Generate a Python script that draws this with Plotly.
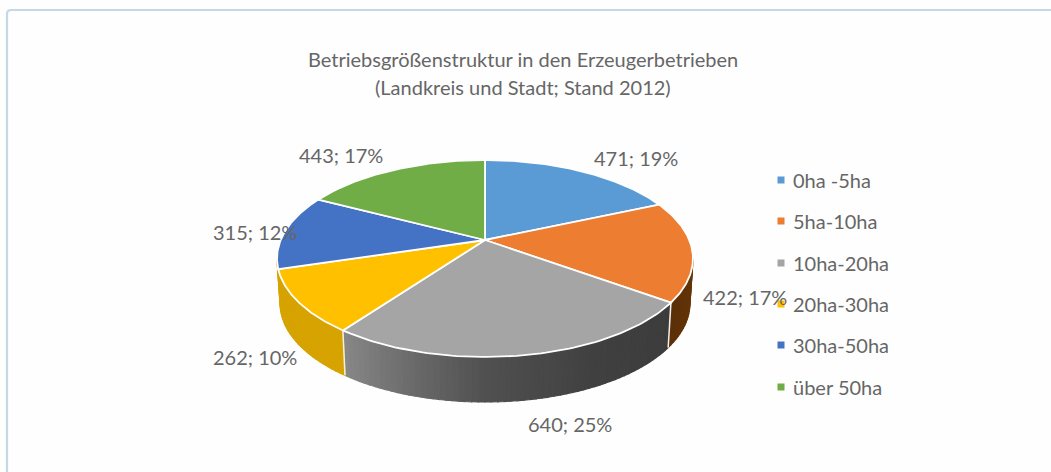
import numpy as np
import plotly.graph_objects as go

# --- data ---
categories = ["0ha -5ha", "5ha-10ha", "10ha-20ha", "20ha-30ha", "30ha-50ha", "über 50ha"]
values = [471, 422, 640, 262, 315, 443]
percent_labels = ["19%", "17%", "25%", "10%", "12%", "17%"]

title_lines = ["Betriebsgrößenstruktur in den Erzeugerbetrieben", "(Landkreis und Stadt; Stand 2012)"]

# --- styles ---
FONT = "Lato, 'Open Sans', sans-serif"
TEXT = "#666666"
top_colors = ["#5b9bd5", "#ed7d31", "#a5a5a5", "#ffc000", "#4472c4", "#70ad47"]
# wall shading stops: (fraction along the clockwise slice sweep, rgb)
wall_stops = {
    1: [(0, (104, 54, 8)), (1, (92, 48, 8))],
    2: [(0, (60, 60, 60)), (0.3, (64, 64, 64)), (0.6, (80, 80, 80)), (1, (136, 136, 136))],
    3: [(0, (214, 163, 0)), (1, (214, 163, 0))],
}
label_centers = [(636, 158), (745, 297), (570, 424), (255, 357), (255, 232), (341, 155)]
legend_y = [180, 221, 263, 304, 345, 387]

# --- projection of the pie disc onto the page (pixel-based axes) ---
CX, CY = 485, 240
K, B, A = 0.1878, 95.0, 204.3
DEPTH = 45
BOTTOM_SCALE = 0.985  # the lower rim recedes slightly in perspective


def rim(theta_deg):
    t = np.radians(theta_deg)
    u, v = np.sin(t), np.cos(t)
    w = 1 + K * v
    return CX + A * u / w, CY - B * v / w


def lower(x, y):
    return CX + (x - CX) * BOTTOM_SCALE, y + DEPTH


def lerp_color(stops, f):
    for (f0, c0), (f1, c1) in zip(stops, stops[1:]):
        if f <= f1:
            s = (f - f0) / (f1 - f0)
            return "rgb(%d,%d,%d)" % tuple(round(a + (b - a) * s) for a, b in zip(c0, c1))
    return "rgb(%d,%d,%d)" % stops[-1][1]


total = sum(values)
edges = np.concatenate([[0], np.cumsum(values)]) / total * 360
front_lo = np.degrees(np.arccos(-K))
front_hi = 360 - front_lo

fig = go.Figure()

# walls
for i, stops in wall_stops.items():
    a0 = max(edges[i], front_lo)
    a1 = front_hi if i == 3 else min(edges[i + 1], front_hi)
    n = max(4, int((a1 - a0) / 1.5))
    grid = np.linspace(a0, a1, n + 1)
    for j in range(n):
        th = np.linspace(grid[j], grid[j + 1], 4)
        x, y = rim(th)
        xl, yl = lower(x, y)
        col = lerp_color(stops, (j + 0.5) / n)
        fig.add_trace(go.Scatter(
            x=np.concatenate([x, xl[::-1], x[:1]]),
            y=np.concatenate([y, yl[::-1], y[:1]]),
            mode="lines", fill="toself", fillcolor=col,
            line=dict(color=col, width=1.2), hoverinfo="skip", showlegend=False))
    # pale seam at the wall's clockwise-start edge
    if i > 1:
        x0, y0 = rim(a0)
        x1, y1 = lower(x0, y0)
        fig.add_trace(go.Scatter(x=[x0, x1], y=[y0, y1], mode="lines",
                                 line=dict(color="#f4efe6", width=1.5),
                                 hoverinfo="skip", showlegend=False))

# top faces
for i, cat in enumerate(categories):
    th = np.linspace(edges[i], edges[i + 1], 80)
    x, y = rim(th)
    fig.add_trace(go.Scatter(
        x=np.concatenate([[CX], x, [CX]]), y=np.concatenate([[CY], y, [CY]]),
        mode="lines", fill="toself", fillcolor=top_colors[i],
        line=dict(color="#ffffff", width=1.8), name=cat,
        hovertemplate=f"{cat}: {values[i]}; {percent_labels[i]}<extra></extra>",
        showlegend=False))

# legend keys
for i, cat in enumerate(categories):
    fig.add_trace(go.Scatter(
        x=[781], y=[legend_y[i]], mode="markers",
        marker=dict(symbol="square", size=7, color=top_colors[i]),
        hoverinfo="skip", showlegend=False))

ann = []
for i, cat in enumerate(categories):
    ann.append(dict(x=791, y=legend_y[i], text=cat, xanchor="left", yanchor="middle", showarrow=False,
                    font=dict(family=FONT, size=20, color=TEXT)))
for i, (lx, ly) in enumerate(label_centers):
    ann.append(dict(x=lx, y=ly, text=f"{values[i]}; {percent_labels[i]}", xanchor="center", yanchor="middle",
                    showarrow=False, font=dict(family=FONT, size=20, color=TEXT)))
for line, ly in zip(title_lines, [59, 87]):
    ann.append(dict(x=523, y=ly, text=line, xanchor="center", yanchor="middle", showarrow=False,
                    font=dict(family=FONT, size=20, color=TEXT)))

frame = dict(type="path", path="M 7 472 L 7 14 Q 7 10 11 10 L 1051 10",
             line=dict(color="#c8d7e6", width=2.2))

fig.update_layout(
    width=1051, height=472, margin=dict(l=0, r=0, t=0, b=0),
    paper_bgcolor="#fefefe", plot_bgcolor="#fefefe",
    xaxis=dict(range=[0, 1051], visible=False, fixedrange=True),
    yaxis=dict(range=[472, 0], visible=False, fixedrange=True),
    annotations=ann, shapes=[frame], showlegend=False,
)
fig.write_html("out.html", config={"displayModeBar": False},
               post_script="document.body.style.margin='0';document.documentElement.style.overflow='hidden';")
